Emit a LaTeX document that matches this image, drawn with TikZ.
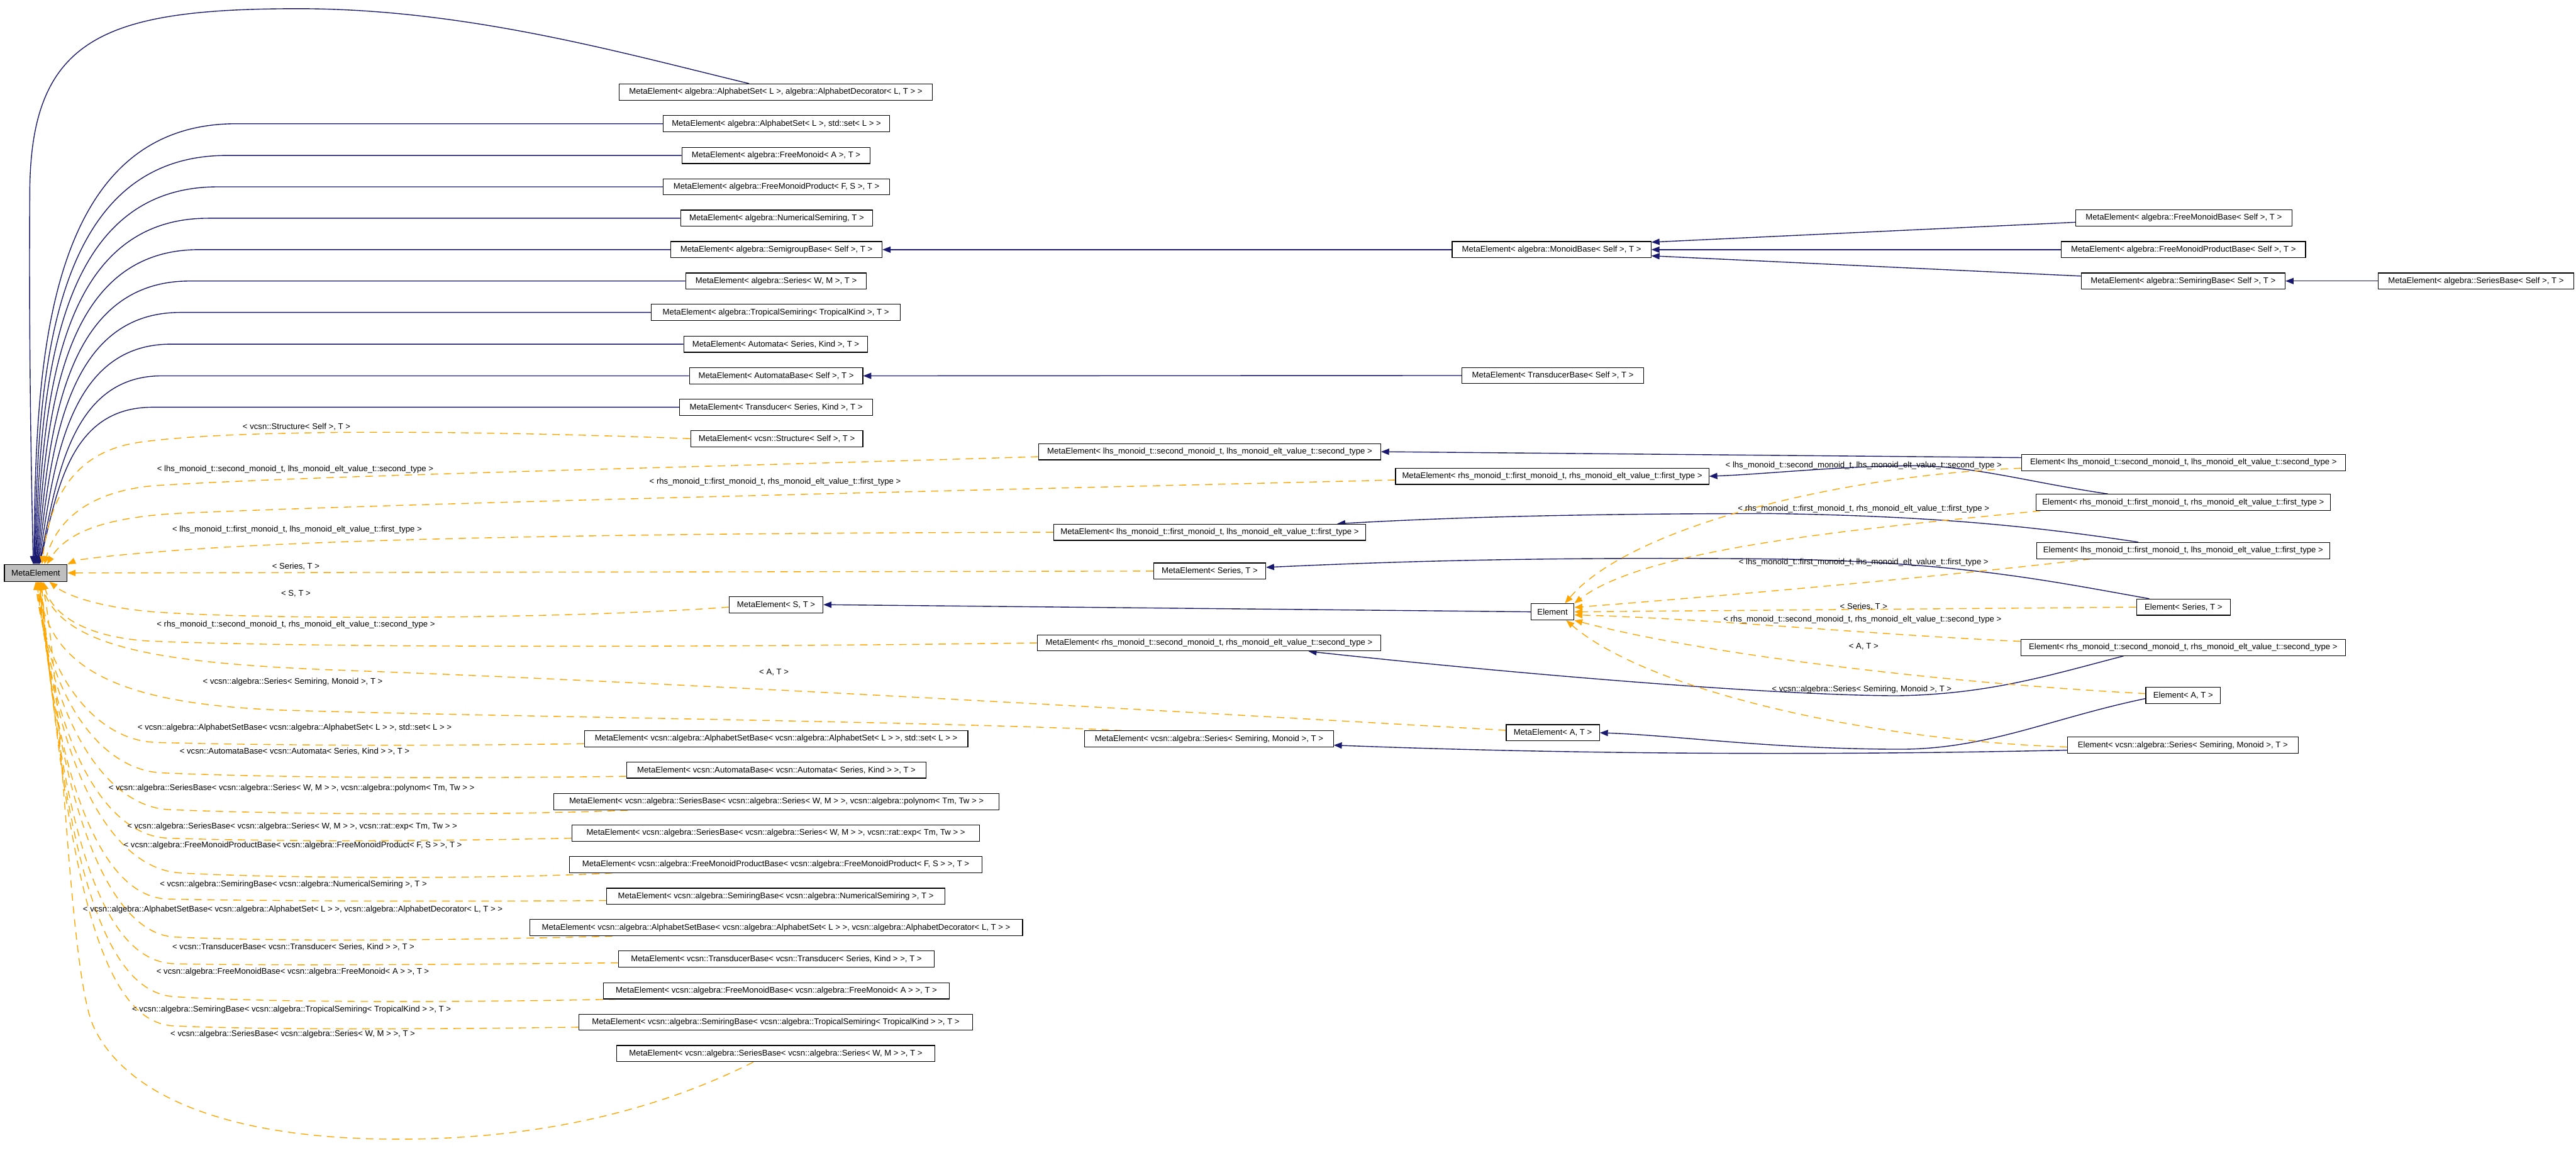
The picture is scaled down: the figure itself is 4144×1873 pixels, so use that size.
\documentclass[tikz,border=0pt]{standalone}
\usepackage{fontspec}
\setmainfont{Liberation Sans}
\usetikzlibrary{arrows.meta,backgrounds}
\definecolor{navyc}{HTML}{191970}
\definecolor{orangec}{HTML}{FFA500}
\definecolor{rootgray}{HTML}{BFBFBF}
\newcommand{\dgfont}{\fontsize{13.3}{16}\selectfont}
\begin{document}
\begin{tikzpicture}[x=1pt,y=-1pt,
  box/.style={draw=black,line width=1.2pt,minimum height=26pt,inner xsep=2pt,inner ysep=0pt,font=\dgfont,fill=white},
  inh/.style={draw=navyc,line width=1.4pt,-{Triangle[length=13pt,width=10pt]}},
  tmpl/.style={draw=orangec,line width=1.4pt,dash pattern=on 12pt off 9pt,-{Triangle[length=13pt,width=10pt]}},
  lab/.style={font=\dgfont,inner sep=0pt}]
\useasboundingbox (0,0) rectangle (4144,1873);

% ---------- nodes ----------
\node[box,fill=rootgray,minimum width=101pt,minimum height=27pt] (root) at (57.5,921.5) {MetaElement};
\node[box,minimum width=504pt] (n1) at (1248,148) {MetaElement< algebra::AlphabetSet< L >, algebra::AlphabetDecorator< L, T > >};
\node[box,minimum width=364pt] (n2) at (1249,199) {MetaElement< algebra::AlphabetSet< L >, std::set< L > >};
\node[box,minimum width=303pt] (n3) at (1248.5,250) {MetaElement< algebra::FreeMonoid< A >, T >};
\node[box,minimum width=364pt] (n4) at (1249,300.5) {MetaElement< algebra::FreeMonoidProduct< F, S >, T >};
\node[box,minimum width=309pt] (n5) at (1249.5,351) {MetaElement< algebra::NumericalSemiring, T >};
\node[box,minimum width=340pt] (n6) at (1249,401.5) {MetaElement< algebra::SemigroupBase< Self >, T >};
\node[box,minimum width=291pt] (n7) at (1248.5,452) {MetaElement< algebra::Series< W, M >, T >};
\node[box,minimum width=400pt] (n8) at (1248,502.5) {MetaElement< algebra::TropicalSemiring< TropicalKind >, T >};
\node[box,minimum width=296pt] (n9) at (1248,553.5) {MetaElement< Automata< Series, Kind >, T >};
\node[box,minimum width=279pt] (n10) at (1248.5,604.5) {MetaElement< AutomataBase< Self >, T >};
\node[box,minimum width=311pt] (n11) at (1248.5,655) {MetaElement< Transducer< Series, Kind >, T >};
\node[box,minimum width=277pt] (n12) at (1249.5,705.5) {MetaElement< vcsn::Structure< Self >, T >};
\node[box,minimum width=151pt] (mst) at (1248.5,972.5) {MetaElement< S, T >};

\node[box,minimum width=320pt] (monoid) at (2496,401.5) {MetaElement< algebra::MonoidBase< Self >, T >};
\node[box,minimum width=348pt] (fmb) at (3513,350.5) {MetaElement< algebra::FreeMonoidBase< Self >, T >};
\node[box,minimum width=393pt] (fmpb) at (3512.5,401.5) {MetaElement< algebra::FreeMonoidProductBase< Self >, T >};
\node[box,minimum width=328pt] (srb) at (3512,452) {MetaElement< algebra::SemiringBase< Self >, T >};
\node[box,minimum width=314pt] (sb) at (3983,452) {MetaElement< algebra::SeriesBase< Self >, T >};
\node[box,minimum width=292pt] (trb) at (2498,604) {MetaElement< TransducerBase< Self >, T >};

\node[box,minimum width=550pt] (mlhs2) at (1946,726.5) {MetaElement< lhs\_monoid\_t::second\_monoid\_t, lhs\_monoid\_elt\_value\_t::second\_type >};
\node[box,minimum width=504pt] (mrhs1) at (2497,766) {MetaElement< rhs\_monoid\_t::first\_monoid\_t, rhs\_monoid\_elt\_value\_t::first\_type >};
\node[box,minimum width=502pt] (mlhs1) at (1946,856) {MetaElement< lhs\_monoid\_t::first\_monoid\_t, lhs\_monoid\_elt\_value\_t::first\_type >};
\node[box,minimum width=180pt] (mser) at (1946,918.5) {MetaElement< Series, T >};
\node[box,minimum width=69pt] (elem) at (2497.5,984) {Element};
\node[box,minimum width=552pt] (mrhs2) at (1945,1034) {MetaElement< rhs\_monoid\_t::second\_monoid\_t, rhs\_monoid\_elt\_value\_t::second\_type >};
\node[box,minimum width=150pt] (ma) at (2498,1178.5) {MetaElement< A, T >};
\node[box,minimum width=400pt] (mssm) at (1945,1188.5) {MetaElement< vcsn::algebra::Series< Semiring, Monoid >, T >};

\node[box,minimum width=521pt] (elhs2) at (3512.5,744) {Element< lhs\_monoid\_t::second\_monoid\_t, lhs\_monoid\_elt\_value\_t::second\_type >};
\node[box,minimum width=474pt] (erhs1) at (3512,808) {Element< rhs\_monoid\_t::first\_monoid\_t, rhs\_monoid\_elt\_value\_t::first\_type >};
\node[box,minimum width=472pt] (elhs1) at (3512,885.5) {Element< lhs\_monoid\_t::first\_monoid\_t, lhs\_monoid\_elt\_value\_t::first\_type >};
\node[box,minimum width=151pt] (eser) at (3512.5,976.5) {Element< Series, T >};
\node[box,minimum width=522pt] (erhs2) at (3512,1041.5) {Element< rhs\_monoid\_t::second\_monoid\_t, rhs\_monoid\_elt\_value\_t::second\_type >};
\node[box,minimum width=120pt] (ea) at (3512,1118.5) {Element< A, T >};
\node[box,minimum width=371pt] (essm) at (3511.5,1198.5) {Element< vcsn::algebra::Series< Semiring, Monoid >, T >};

\node[box,minimum width=617pt] (l1) at (1248.5,1188) {MetaElement< vcsn::algebra::AlphabetSetBase< vcsn::algebra::AlphabetSet< L > >, std::set< L > >};
\node[box,minimum width=482pt] (l2) at (1249,1238.5) {MetaElement< vcsn::AutomataBase< vcsn::Automata< Series, Kind > >, T >};
\node[box,minimum width=716pt] (l3) at (1249,1289.5) {MetaElement< vcsn::algebra::SeriesBase< vcsn::algebra::Series< W, M > >, vcsn::algebra::polynom< Tm, Tw > >};
\node[box,minimum width=656pt] (l4) at (1248,1340) {MetaElement< vcsn::algebra::SeriesBase< vcsn::algebra::Series< W, M > >, vcsn::rat::exp< Tm, Tw > >};
\node[box,minimum width=664pt] (l5) at (1248,1390.5) {MetaElement< vcsn::algebra::FreeMonoidProductBase< vcsn::algebra::FreeMonoidProduct< F, S > >, T >};
\node[box,minimum width=544pt] (l6) at (1248,1441.5) {MetaElement< vcsn::algebra::SemiringBase< vcsn::algebra::NumericalSemiring >, T >};
\node[box,minimum width=793pt] (l7) at (1248.5,1492) {MetaElement< vcsn::algebra::AlphabetSetBase< vcsn::algebra::AlphabetSet< L > >, vcsn::algebra::AlphabetDecorator< L, T > >};
\node[box,minimum width=508pt] (l8) at (1249,1542.5) {MetaElement< vcsn::TransducerBase< vcsn::Transducer< Series, Kind > >, T >};
\node[box,minimum width=556pt] (l9) at (1249,1593.5) {MetaElement< vcsn::algebra::FreeMonoidBase< vcsn::algebra::FreeMonoid< A > >, T >};
\node[box,minimum width=634pt] (l10) at (1248,1644) {MetaElement< vcsn::algebra::SemiringBase< vcsn::algebra::TropicalSemiring< TropicalKind > >, T >};
\node[box,minimum width=512pt] (l11) at (1248,1694.5) {MetaElement< vcsn::algebra::SeriesBase< vcsn::algebra::Series< W, M > >, T >};

% ---------- labels ----------
\node[lab] (t12) at (477,687) {< vcsn::Structure< Self >, T >};
\node[lab] (tlhs2) at (475,755) {< lhs\_monoid\_t::second\_monoid\_t, lhs\_monoid\_elt\_value\_t::second\_type >};
\node[lab] (trhs1) at (1247,775) {< rhs\_monoid\_t::first\_monoid\_t, rhs\_monoid\_elt\_value\_t::first\_type >};
\node[lab] (tlhs1) at (478,852) {< lhs\_monoid\_t::first\_monoid\_t, lhs\_monoid\_elt\_value\_t::first\_type >};
\node[lab] (tser) at (476,911) {< Series, T >};
\node[lab] (tst) at (476,955) {< S, T >};
\node[lab] (trhs2) at (476,1005) {< rhs\_monoid\_t::second\_monoid\_t, rhs\_monoid\_elt\_value\_t::second\_type >};
\node[lab] (tssm) at (471,1097) {< vcsn::algebra::Series< Semiring, Monoid >, T >};
\node[lab] (ta) at (1245,1081) {< A, T >};
\node[lab] (tl1) at (474,1171) {< vcsn::algebra::AlphabetSetBase< vcsn::algebra::AlphabetSet< L > >, std::set< L > >};
\node[lab] (tl2) at (474,1209) {< vcsn::AutomataBase< vcsn::Automata< Series, Kind > >, T >};
\node[lab] (tl3) at (469,1268) {< vcsn::algebra::SeriesBase< vcsn::algebra::Series< W, M > >, vcsn::algebra::polynom< Tm, Tw > >};
\node[lab] (tl4) at (470,1329) {< vcsn::algebra::SeriesBase< vcsn::algebra::Series< W, M > >, vcsn::rat::exp< Tm, Tw > >};
\node[lab] (tl5) at (471,1360) {< vcsn::algebra::FreeMonoidProductBase< vcsn::algebra::FreeMonoidProduct< F, S > >, T >};
\node[lab] (tl6) at (472,1423) {< vcsn::algebra::SemiringBase< vcsn::algebra::NumericalSemiring >, T >};
\node[lab] (tl7) at (471,1463) {< vcsn::algebra::AlphabetSetBase< vcsn::algebra::AlphabetSet< L > >, vcsn::algebra::AlphabetDecorator< L, T > >};
\node[lab] (tl8) at (472,1523) {< vcsn::TransducerBase< vcsn::Transducer< Series, Kind > >, T >};
\node[lab] (tl9) at (471,1563) {< vcsn::algebra::FreeMonoidBase< vcsn::algebra::FreeMonoid< A > >, T >};
\node[lab] (tl10) at (469,1624) {< vcsn::algebra::SemiringBase< vcsn::algebra::TropicalSemiring< TropicalKind > >, T >};
\node[lab] (tl11) at (471,1663) {< vcsn::algebra::SeriesBase< vcsn::algebra::Series< W, M > >, T >};

\node[lab] (re1) at (2998,749) {< lhs\_monoid\_t::second\_monoid\_t, lhs\_monoid\_elt\_value\_t::second\_type >};
\node[lab] (re2) at (2998,819) {< rhs\_monoid\_t::first\_monoid\_t, rhs\_monoid\_elt\_value\_t::first\_type >};
\node[lab] (re3) at (2998,905) {< lhs\_monoid\_t::first\_monoid\_t, lhs\_monoid\_elt\_value\_t::first\_type >};
\node[lab] (re4) at (2998,976) {< Series, T >};
\node[lab] (re5) at (2996,997) {< rhs\_monoid\_t::second\_monoid\_t, rhs\_monoid\_elt\_value\_t::second\_type >};
\node[lab] (re6) at (2998,1040) {< A, T >};
\node[lab] (re7) at (2995,1109) {< vcsn::algebra::Series< Semiring, Monoid >, T >};

% ---------- edges ----------
\begin{scope}[on background layer]
\fill[white] (0,0) rectangle (4144,1873);
% public inheritance into MetaElement
\draw[inh] ([xshift=-43]n1.north) .. controls (1000,85) and (750,14) .. (480,14) .. controls (170,14) and (52,60) .. (48,300) .. controls (46,600) and (52,830) .. ([xshift=-4]root.north);
\draw[inh] (n2.west) -- (380,199) .. controls (60,199) and (58,623) .. ([xshift=-3]root.north);
\draw[inh] (n3.west) -- (365,250) .. controls (66,250) and (62,645) .. ([xshift=-2]root.north);
\draw[inh] (n4.west) -- (350,300.5) .. controls (72,300.5) and (66,665) .. ([xshift=-1]root.north);
\draw[inh] (n5.west) -- (335,351) .. controls (78,351) and (70,685) .. (root.north);
\draw[inh] (n6.west) -- (320,401.5) .. controls (84,401.5) and (74,705) .. ([xshift=1]root.north);
\draw[inh] (n7.west) -- (305,452) .. controls (90,452) and (78,726) .. ([xshift=2]root.north);
\draw[inh] (n8.west) -- (290,502.5) .. controls (96,502.5) and (82,746) .. ([xshift=3]root.north);
\draw[inh] (n9.west) -- (275,553.5) .. controls (102,553.5) and (86,766) .. ([xshift=4]root.north);
\draw[inh] (n10.west) -- (260,604.5) .. controls (108,604.5) and (90,786) .. ([xshift=5]root.north);
\draw[inh] (n11.west) -- (245,655) .. controls (112,655) and (92,790) .. ([xshift=6]root.north);
% template instances into MetaElement
\draw[tmpl] (n12.west) .. controls (700,690) and (350,692) .. (220,712) .. controls (120,728) and (80,800) .. ([xshift=10]root.north);
\draw[tmpl] ([yshift=-8]mlhs2.west) .. controls (1100,752) and (500,765) .. (250,781) .. controls (140,790) and (90,840) .. ([xshift=14]root.north);
\draw[tmpl] ([yshift=-6]mrhs1.west) .. controls (1500,790) and (700,808) .. (300,825) .. controls (160,831) and (105,860) .. ([xshift=18]root.north);
\draw[tmpl] (mlhs1.west) .. controls (800,858) and (450,872) .. (260,887) .. controls (170,894) and (125,900) .. (root.north east);
\draw[tmpl] (mser.west) -- (root.east);
\draw[tmpl] ([yshift=-4]mst.west) .. controls (900,996) and (450,997) .. (260,985) .. controls (170,979) and (110,960) .. ([xshift=22]root.south);
\draw[tmpl] (mrhs2.west) .. controls (1000,1043) and (450,1040) .. (240,1031) .. controls (140,1025) and (85,990) .. ([xshift=12]root.south);
\draw[tmpl] ([yshift=4]ma.west) .. controls (1900,1145) and (1100,1098) .. (550,1078) .. controls (250,1067) and (100,1040) .. ([xshift=8]root.south);
\draw[tmpl] ([xshift=-140]mssm.north) .. controls (1500,1160) and (800,1153) .. (450,1142) .. controls (200,1132) and (80,1080) .. ([xshift=4]root.south);
\draw[tmpl] ([yshift=-8]l1.west) .. controls (700,1200) and (420,1199) .. (250,1194) .. controls (150,1190) and (72,1080) .. (root.south);
\draw[tmpl] ([yshift=-10]l2.west) .. controls (700,1253) and (420,1250) .. (260,1243) .. controls (160,1238) and (78,1120) .. ([xshift=1]root.south);
\draw[tmpl] ([xshift=-239]l3.south) .. controls (800,1312) and (450,1310) .. (270,1302) .. controls (170,1296) and (82,1160) .. ([xshift=2]root.south);
\draw[tmpl] ([yshift=-8]l4.west) .. controls (650,1354) and (420,1353) .. (270,1348) .. controls (170,1344) and (86,1200) .. ([xshift=3]root.south);
\draw[tmpl] ([xshift=-263]l5.south) .. controls (800,1414) and (450,1413) .. (290,1404) .. controls (180,1397) and (90,1240) .. ([xshift=4]root.south);
\draw[tmpl] ([yshift=-7]l6.west) .. controls (650,1450) and (420,1449) .. (270,1446) .. controls (170,1443) and (94,1280) .. ([xshift=5]root.south);
\draw[tmpl] ([xshift=-263.5]l7.south) .. controls (750,1512) and (450,1515) .. (280,1507) .. controls (180,1500) and (98,1320) .. ([xshift=6]root.south);
\draw[tmpl] ([yshift=-6]l8.west) .. controls (650,1552) and (420,1553) .. (280,1550) .. controls (170,1546) and (102,1360) .. ([xshift=7]root.south);
\draw[tmpl] ([xshift=-258]l9.south) .. controls (700,1613) and (420,1612) .. (280,1603) .. controls (170,1595) and (106,1400) .. ([xshift=8]root.south);
\draw[tmpl] ([yshift=-8]l10.west) .. controls (650,1656) and (420,1656) .. (280,1650) .. controls (170,1645) and (110,1440) .. ([xshift=9]root.south);
\draw[tmpl] ([xshift=-36]l11.south) .. controls (1050,1790) and (850,1835) .. (620,1832) .. controls (360,1829) and (200,1760) .. (150,1650) .. controls (110,1560) and (100,1100) .. ([xshift=10]root.south);
% right-hand inheritance
\draw[inh] (monoid.west) -- (n6.east);
\draw[inh] ([yshift=-7]fmb.west) -- ([yshift=12]monoid.east);
\draw[inh] (fmpb.west) -- (monoid.east);
\draw[inh] ([yshift=8]srb.west) -- ([yshift=-10]monoid.east);
\draw[inh] (sb.west) -- (srb.east);
\draw[inh] (trb.west) -- (n10.east);
\draw[inh] (elem.west) -- (mst.east);
\draw[inh] ([yshift=8]elhs2.west) -- (mlhs2.east);
\draw[inh] ([xshift=-121]erhs1.north) .. controls (3260,775) and (3180,750) .. (3080,749) .. controls (2950,750) and (2850,762) .. (mrhs1.east);
\draw[inh] ([xshift=-72]elhs1.north) .. controls (3280,848) and (3120,830) .. (2850,826) .. controls (2500,826) and (2300,834) .. ([xshift=205]mlhs1.north);
\draw[inh] ([xshift=-55]eser.north) .. controls (3300,935) and (3150,903) .. (2850,899) .. controls (2450,895) and (2200,905) .. ([yshift=6]mser.east);
\draw[inh] ([xshift=-96]erhs2.south) .. controls (3300,1085) and (3200,1117) .. (3050,1119) .. controls (2850,1118) and (2450,1085) .. ([xshift=160]mrhs2.south);
\draw[inh] ([yshift=-5]ea.west) .. controls (3300,1155) and (3200,1204) .. (3060,1205) .. controls (2850,1205) and (2700,1183) .. (ma.east);
\draw[inh] ([yshift=-8]essm.west) .. controls (2900,1216) and (2500,1212) .. ([yshift=-10]mssm.east);
% template instances into Element
\draw[tmpl] ([yshift=-9]elhs2.west) .. controls (2950,765) and (2620,850) .. ([xshift=20]elem.north);
\draw[tmpl] ([xshift=-230]erhs1.south) .. controls (3000,850) and (2650,880) .. (elem.north east);
\draw[tmpl] ([xshift=-149]elhs1.south) .. controls (3100,930) and (2750,960) .. ([yshift=7]elem.east);
\draw[tmpl] (eser.west) -- (elem.east);
\draw[tmpl] ([yshift=10]erhs2.west) .. controls (3000,1020) and (2750,995) .. ([yshift=-5]elem.east);
\draw[tmpl] ([yshift=3]ea.west) .. controls (3150,1100) and (2750,1055) .. (elem.south east);
\draw[tmpl] ([yshift=-3]essm.west) .. controls (3000,1190) and (2650,1110) .. ([xshift=22]elem.south);
\end{scope}
\end{tikzpicture}
\end{document}
